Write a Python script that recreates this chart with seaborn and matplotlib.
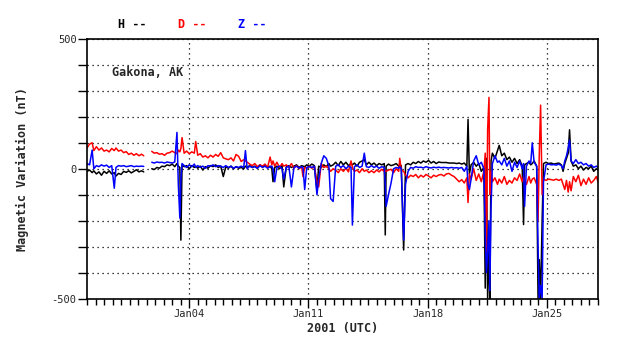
import numpy as np
import pandas as pd
import matplotlib
matplotlib.use("Agg")
import matplotlib.pyplot as plt
import matplotlib.dates as mdates
from matplotlib.ticker import FixedLocator, FuncFormatter
import seaborn as sns

sns.set_theme(style="white")
plt.rcParams["font.family"] = ["DejaVu Sans Mono", "DejaVu Sans"]

# days after 2000-12-29 00:00 UTC (nan = data gap)
day_offset = [
    0.00, 0.15, 0.30, 0.40, 0.55, 0.70, 0.85, 1.00, 1.15, 1.30, 1.45, 1.60, 1.70, 1.85,
    2.00, 2.15, 2.30, 2.45, 2.60, 2.75, 2.90, 3.05, 3.20, 3.33, 3.55, 3.80, 3.95, 4.10,
    4.25, 4.40, 4.55, 4.70, 4.85, 5.00, 5.15, 5.28, 5.36, 5.45, 5.51, 5.58, 5.70, 5.85,
    6.00, 6.15, 6.30, 6.38, 6.50, 6.65, 6.80, 6.95, 7.10, 7.25, 7.40, 7.55, 7.70, 7.85,
    8.00, 8.15, 8.30, 8.45, 8.60, 8.75, 8.90, 9.05, 9.20, 9.30, 9.40, 9.55, 9.70, 9.85,
    10.00, 10.15, 10.30, 10.45, 10.60, 10.75, 10.85, 10.92, 11.02, 11.15, 11.30, 11.45,
    11.55, 11.70, 11.85, 12.00, 12.15, 12.30, 12.45, 12.60, 12.68, 12.78, 12.90, 13.05,
    13.20, 13.35, 13.50, 13.60, 13.75, 13.90, 14.05, 14.20, 14.30, 14.45, 14.60, 14.75,
    14.90, 15.05, 15.20, 15.35, 15.50, 15.58, 15.70, 15.85, 16.00, 16.15, 16.28, 16.40,
    16.55, 16.70, 16.85, 17.00, 17.15, 17.30, 17.45, 17.51, 17.56, 17.70, 17.85, 18.00,
    18.15, 18.30, 18.36, 18.45, 18.59, 18.70, 18.85, 19.00, 19.15, 19.30, 19.45, 19.60,
    19.75, 19.90, 20.05, 20.20, 20.35, 20.50, 20.65, 20.80, 20.95, 21.10, 21.25, 21.40,
    21.55, 21.70, 21.85, 22.00, 22.15, 22.30, 22.37, 22.45, 22.55, 22.70, 22.85, 23.00,
    23.15, 23.30, 23.38, 23.45, 23.52, 23.60, 23.65, 23.72, 23.80, 23.95, 24.10, 24.20,
    24.35, 24.50, 24.65, 24.80, 24.95, 25.10, 25.25, 25.40, 25.55, 25.63, 25.69, 25.80,
    25.95, 26.05, 26.14, 26.25, 26.40, 26.48, 26.55, 26.63, 26.72, 26.80, 26.95, 27.10,
    27.25, 27.40, 27.55, 27.70, 27.85, 27.95, 28.05, 28.15, 28.25, 28.33, 28.42, 28.55,
    28.70, 28.85, 29.00, 29.15, 29.30, 29.45, 29.60, 29.75, 29.90, 30.00,
]
nan = np.nan
h_vals = [
    -10, -5, -15, -8, -20, -12, -25, -10, -18, -8, -20, -15, -28, -18,
    -22, -10, -14, -8, -16, -10, -4, -12, -8, -12, nan, 0, -3, 5,
    2, 10, 8, 15, 12, 18, 8, 20, 10, 5, -275, 15, 8, 12,
    0, 12, 5, 10, 2, 10, -5, 8, 2, 12, 8, 15, 5, 10,
    -30, 8, 2, 10, 0, 8, 2, 5, 0, 10, 5, 12, 5, 10,
    2, 15, 8, 12, 5, 10, 0, -50, 5, 10, 0, 12,
    -70, 8, 12, 5, 10, 15, 5, 12, 10, 8, 15, 10,
    18, 12, -85, 10, 5, 15, 8, 20, 10, 15, 25, 12,
    28, 15, 25, 12, 20, 15, 22, 10, 25, 30, 35, 15,
    25, 15, 22, 12, 20, 15, 20, -255, 10, 18, 12, 15,
    20, 10, 15, 12, -313, 15, 20, 15, 25, 20, 28, 22,
    30, 25, 32, 22, 28, 20, 26, 24, 24, 24, 22, 22,
    22, 20, 22, 18, 22, 10, 190, -20, 15, 25, 10, 20,
    -10, 5, -460, 40, -500, -300, -500, 30, 60, 40, 70, 90,
    50, 60, 35, 45, 25, 40, 20, 35, 10, -215, 15, 20,
    25, 15, 20, 30, 10, -500, -350, -500, -200, 20, 25, 20,
    22, 18, 20, 22, 15, -10, 20, 40, 60, 150, 30, 10,
    15, 0, 10, -5, 5, 0, 10, -10, 0, -5,
]
d_vals = [
    80, 95, 100, 70, 85, 72, 80, 68, 72, 65, 78, 70, 80, 68,
    72, 62, 66, 55, 60, 52, 58, 50, 56, 50, nan, 67, 60, 62,
    56, 58, 52, 60, 62, 68, 62, 58, 72, 65, 78, 120, 60, 68,
    58, 65, 60, 105, 52, 58, 45, 50, 42, 52, 45, 55, 48, 62,
    42, 38, 35, 42, 30, 55, 48, 28, 35, 30, 25, 18, 12, 20,
    8, 15, 10, 18, 5, 45, 15, 30, 10, 25, 5, 20,
    10, 15, 5, 20, 2, 12, 0, 8, -30, 5, 2, 10,
    2, 8, -50, -70, 20, 5, 10, 0, -10, 0, -5, -15,
    0, -10, 2, -12, 30, 5, -10, -5, -15, 0, -10, -5,
    -15, -8, -15, -5, -12, -2, -10, -8, -10, -5, -2, -15,
    0, -10, 40, -5, -10, -25, -35, -25, -30, -22, -35, -25,
    -32, -22, -28, -35, -25, -30, -24, -22, -28, -20, -18, -25,
    -30, -40, -50, -42, -55, -35, -130, -20, -40, 0, -45, -20,
    -50, -10, 60, -320, 150, 275, -100, -10, -50, -35, -60, -40,
    -55, -30, -60, -45, -55, -35, -45, -20, -50, -30, -45, -60,
    -30, -55, -40, -35, -60, -200, 50, 245, -100, -40, -45, -40,
    -42, -44, -40, -45, -40, -60, -80, -45, -90, -50, -85, -30,
    -50, -25, -65, -40, -60, -35, -55, -45, -30, -50,
]
z_vals = [
    20, 15, 72, 0, 12, 8, 15, 10, 14, 5, 12, -75, 5, 12,
    10, 12, 8, 10, 12, 8, 10, 9, 10, 9, nan, 25, 22, 26,
    24, 25, 22, 26, 24, 22, 26, 140, -60, -190, -40, 20, 12, 5,
    15, 8, 18, 5, 12, 6, 10, 2, 12, 10, 15, 8, 12, 10,
    5, 12, 5, 10, 2, 8, 5, 10, 5, 70, 0, 10, 5, 8,
    2, 12, 5, 10, 2, 8, 10, 0, -50, 5, 10, 0,
    -40, 5, 10, -70, 5, 10, 2, 8, 5, -80, 5, 8,
    5, 10, -100, -40, 20, 50, 40, 10, -115, -126, 10, 15,
    5, 12, 0, 10, 5, -217, 8, 15, 5, 10, 60, 8,
    5, 12, 5, 10, 2, 8, 5, -60, -145, -100, -55, 0,
    5, 2, 8, 0, -275, -60, -10, 5, 2, 8, 5, 6,
    3, 8, 5, 3, 6, 4, 6, 4, 5, 4, 3, 5,
    3, 4, 2, 5, -10, 10, -60, -80, -40, 30, 50, 15,
    25, 0, -250, -400, -320, -200, -470, -150, 20, 50, 25, 30,
    15, 40, 10, 30, -10, 25, 5, 30, 0, 20, -145, 10,
    30, 20, 100, 25, 10, -300, -500, -450, -500, -50, 15, 18,
    15, 16, 14, 18, 12, 0, 30, 50, 80, 110, 30, 20,
    35, 20, 25, 15, 20, 10, 15, 5, 10, 5,
]
components = ["H", "D", "Z"]
colors = {"H": "#000000", "D": "#ff0000", "Z": "#0000ff"}

start = pd.Timestamp("2000-12-29")
times = start + pd.to_timedelta(day_offset, unit="D")

frames = []
for comp, vals in zip(components, [h_vals, d_vals, z_vals]):
    df = pd.DataFrame({"time": times, "value": vals})
    df["segment"] = df["value"].isna().cumsum()
    df["component"] = comp
    frames.append(df.dropna())
data = pd.concat(frames, ignore_index=True)

fig = plt.figure(figsize=(6.38, 3.59), dpi=100)
ax = fig.add_axes([0.1364, 0.1685, 0.8009, 0.7229])

for comp in components:
    sub = data[data["component"] == comp]
    sns.lineplot(data=sub, x="time", y="value", units="segment", estimator=None,
                 color=colors[comp], lw=1.1, ax=ax, legend=False, sort=False)

ax.set_xlim(start, pd.Timestamp("2001-01-28"))
ax.set_ylim(-500, 500)

ax.xaxis.set_major_locator(mdates.DayLocator(bymonthday=[4, 11, 18, 25]))
ax.xaxis.set_major_formatter(mdates.DateFormatter("%b%d"))
ax.xaxis.set_minor_locator(mdates.HourLocator(byhour=[0, 12]))
ax.yaxis.set_major_locator(FixedLocator(list(range(-500, 501, 100))))
ax.yaxis.set_major_formatter(FuncFormatter(lambda v, p: f"{int(v)}" if v in (-500, 0, 500) else ""))

ax.grid(True, axis="y", which="major", linestyle=(0, (1, 3)), color="black", lw=0.9)
ax.grid(True, axis="x", which="major", linestyle=(0, (1, 3)), color="black", lw=0.9)
ax.tick_params(axis="both", which="major", direction="out", length=6.5, width=1,
               color="black", labelsize=7.5, pad=1)
ax.tick_params(axis="x", which="major", bottom=True)
ax.tick_params(axis="x", which="minor", bottom=True, direction="out", length=4.3,
               width=1, color="black")
ax.tick_params(axis="y", which="major", left=True)
for s in ax.spines.values():
    s.set_color("black")
    s.set_linewidth(1.2)

ax.set_xlabel("2001 (UTC)", fontsize=8.5, fontweight="bold", labelpad=2)
ax.set_ylabel("Magnetic Variation (nT)", fontsize=8.5, fontweight="bold", labelpad=16)

fig.text(112 / 638, 1 - 72 / 359, "Gakona, AK", fontsize=8.5, fontweight="bold",
         va="center", ha="left")
for comp, xpix in zip(components, [118, 178, 238]):
    fig.text(xpix / 638, 1 - 24 / 359, f"{comp} --", color=colors[comp], fontsize=8.5,
             fontweight="bold", va="center", ha="left")

fig.savefig("out.png", dpi=100)
